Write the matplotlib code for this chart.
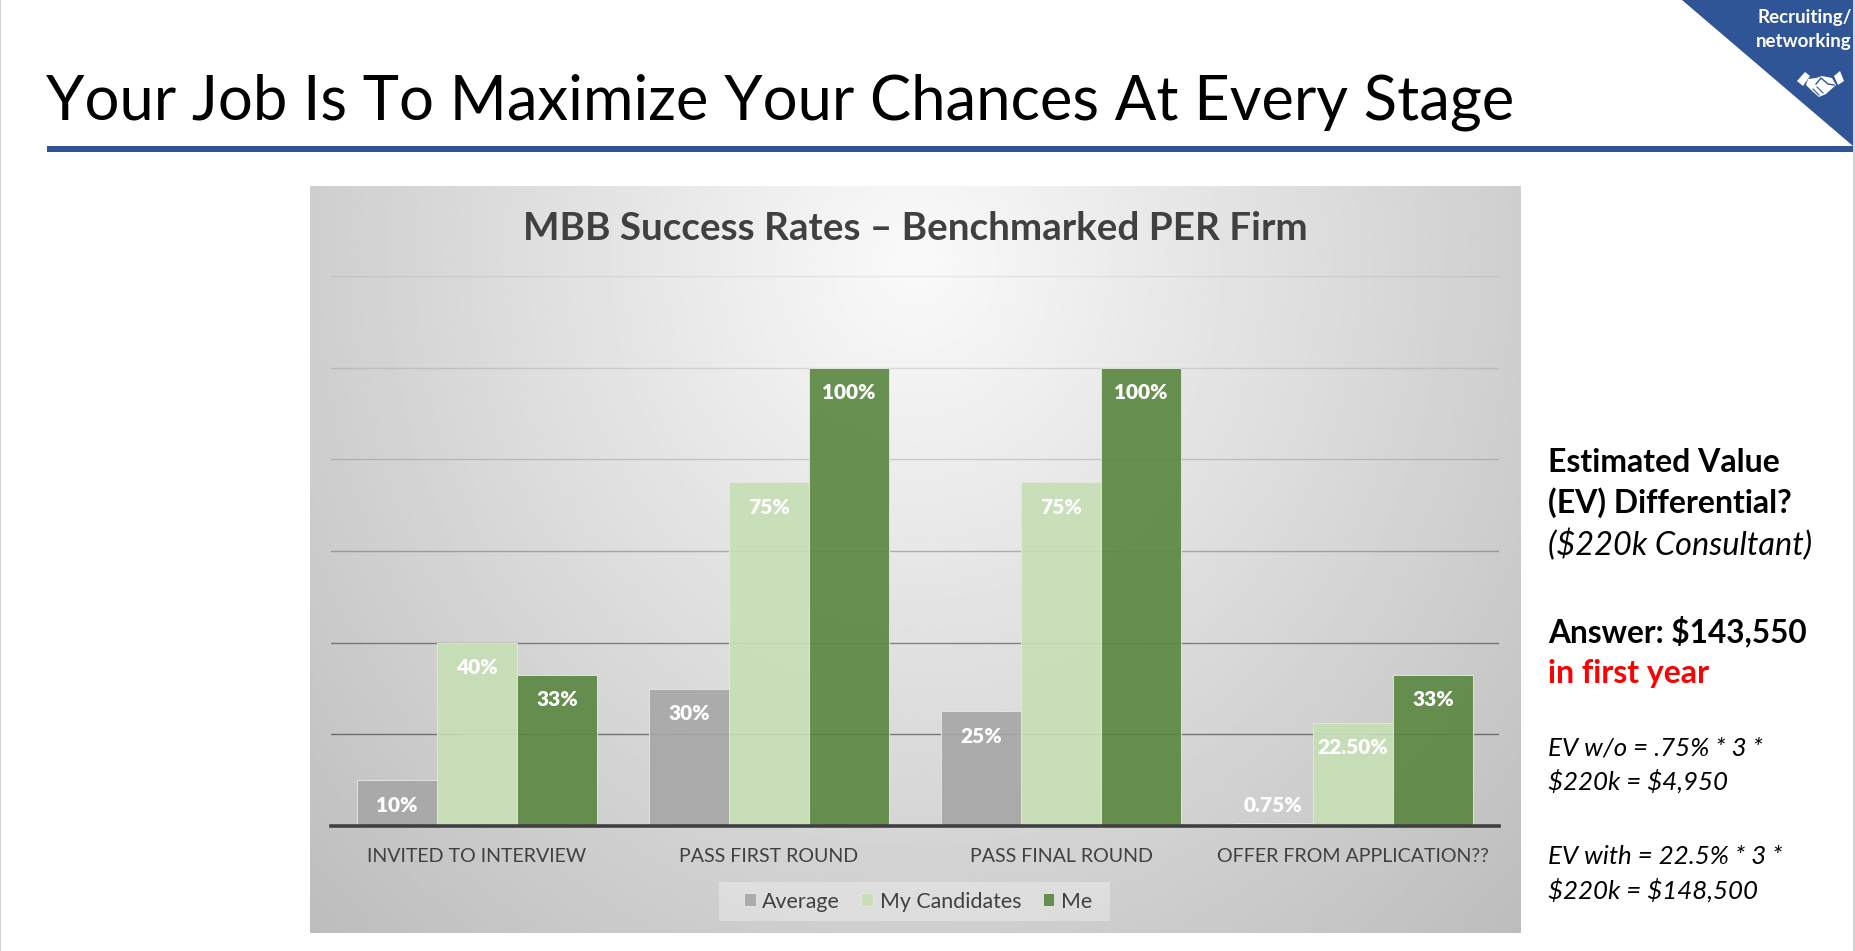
#!/usr/bin/env python

import numpy as np
import matplotlib
matplotlib.use("Agg")
import matplotlib.pyplot as plt
from matplotlib.patches import Polygon, Rectangle

plt.rcParams["font.family"] = ["Lato", "DejaVu Sans"]

W, H = 1855, 951

categories = ["INVITED TO INTERVIEW", "PASS FIRST ROUND", "PASS FINAL ROUND", "OFFER FROM APPLICATION??"]
average = [10, 30, 25, 0.75]
candidates = [40, 75, 75, 22.5]
me = [33, 100, 100, 33]
average_labels = ["10%", "30%", "25%", "0.75%"]
candidates_labels = ["40%", "75%", "75%", "22.50%"]
me_labels = ["33%", "100%", "100%", "33%"]
series_names = ["Average", "My Candidates", "Me"]
colors = ["#a7a7a7", "#c7dfb6", "#5c8843"]

title = "Your Job Is To Maximize Your Chances At Every Stage"
chart_title = "MBB Success Rates \u2013 Benchmarked PER Firm"

fig = plt.figure(figsize=(W / 100, H / 100), dpi=100)

# page layer, in pixels
bg = fig.add_axes([0, 0, 1, 1], zorder=0)
bg.set_xlim(0, W)
bg.set_ylim(H, 0)
bg.axis("off")

# chart panel gradient
yy, xx = np.mgrid[0:1:300j, 0:1:500j]
r = np.sqrt(((xx - 0.5) / 0.5) ** 2 + ((yy - 0.1) / 0.9) ** 2) / np.sqrt(2)
grad = 0.98 - 0.24 * np.clip(r, 0, 1)
bg.imshow(grad, cmap="gray", vmin=0, vmax=1, extent=(310, 1521, 933, 186), aspect="auto", zorder=1)
bg.set_xlim(0, W)
bg.set_ylim(H, 0)

# page furniture
blue = "#2f5597"
bg.add_patch(Rectangle((47, 146), 1806, 6, color=blue, lw=0, zorder=2))
bg.add_patch(Polygon([(1682, 0), (1853, 0), (1853, 146)], color=blue, lw=0, zorder=2))
bg.add_patch(Rectangle((1853, 0), 2, H, color="#d4d4d4", lw=0, zorder=2))
bg.add_patch(Rectangle((0, 0), 1, H, color="#d4d4d4", lw=0, zorder=2))

# handshake icon
bg.add_patch(Polygon([(1797, 81), (1805, 72), (1810, 76), (1803, 86)], color="white", lw=0, zorder=3))
bg.add_patch(Polygon([(1834, 76), (1840, 71), (1844, 81), (1838, 85)], color="white", lw=0, zorder=3))
bg.add_patch(Polygon([(1808, 79), (1816, 78), (1822, 76), (1832, 78), (1836, 85), (1826, 94),
                      (1819, 97), (1812, 91), (1806, 85)], color="white", lw=0, zorder=3))
bg.plot([1816, 1821, 1828, 1834], [84, 78, 84, 85], color=blue, lw=1, zorder=4)
bg.plot([1813, 1819], [89, 95], color=blue, lw=0.8, zorder=4)
bg.plot([1817, 1823], [87, 93], color=blue, lw=0.8, zorder=4)

bg.text(46, 102, title, fontsize=44.3, color="black", va="center", ha="left", zorder=5)
bg.text(1852, 18, "Recruiting/", fontsize=13.5, color="white", fontweight="bold", va="center", ha="right", zorder=5)
bg.text(1852, 41, "networking", fontsize=13.5, color="white", fontweight="bold", va="center", ha="right", zorder=5)
bg.text(915, 228, chart_title, fontsize=27.8, color="#404040", fontweight="bold", va="center", ha="center", zorder=5)

side_x = 1548
bg.text(side_x, 462, "Estimated Value", fontsize=23, fontweight="bold", va="center", zorder=5)
bg.text(side_x, 503, "(EV) Differential?", fontsize=23, fontweight="bold", va="center", zorder=5)
bg.text(side_x, 545, r"(\$220k Consultant)", fontsize=23.4, style="italic", va="center", zorder=5)
bg.text(side_x, 631, r"Answer: \$143,550", fontsize=22.8, fontweight="bold", va="center", zorder=5)
bg.text(side_x, 673, "in first year", fontsize=23, fontweight="bold", color="#ff0000", va="center", zorder=5)
bg.text(side_x, 748, "EV w/o = .75% * 3 *", fontsize=18.6, style="italic", va="center", zorder=5)
bg.text(side_x, 781, r"\$220k = \$4,950", fontsize=18.6, style="italic", va="center", zorder=5)
bg.text(side_x, 856, "EV with = 22.5% * 3 *", fontsize=18.6, style="italic", va="center", zorder=5)
bg.text(side_x, 890, r"\$220k = \$148,500", fontsize=18.6, style="italic", va="center", zorder=5)

# legend backdrop
bg.add_patch(Rectangle((719, 882), 391, 39, color="white", alpha=0.3, lw=0, zorder=2))

# the chart itself
left, right, top, bottom = 331, 1499, 276, 826
ax = fig.add_axes([left / W, 1 - bottom / H, (right - left) / W, (bottom - top) / H], zorder=1)
ax.patch.set_alpha(0)

x = np.arange(len(categories))
width = 0.2735
groups = [average, candidates, me]
group_labels = [average_labels, candidates_labels, me_labels]
for i, (vals, labs) in enumerate(zip(groups, group_labels)):
    bars = ax.bar(x + (i - 1) * width, vals, width, color=colors[i], alpha=0.92, edgecolor="#e4e8e0",
                  linewidth=0.7, label=series_names[i], zorder=2)
    for b, v, lab in zip(bars, vals, labs):
        # a bar too short to hold its label gets it on top
        off = -18 if v > 5 else 12
        ax.annotate(lab, (b.get_x() + b.get_width() / 2, v), xytext=(0, off), textcoords="offset points",
                    ha="center", va="center", color="white", fontweight="heavy", fontsize=15, zorder=3)

ax.set_xlim(-0.5, 3.5)
ax.set_ylim(0, 120)
ax.set_yticks(range(0, 121, 20))
ax.yaxis.grid(True, color="#000000", lw=1, zorder=1)
for g, a in zip(ax.get_ygridlines(), [0, 0.45, 0.42, 0.25, 0.15, 0.1, 0.07]):
    g.set_alpha(a)
ax.set_axisbelow(True)
for s in ["top", "left", "right"]:
    ax.spines[s].set_visible(False)
ax.spines["bottom"].set_color("#404040")
ax.spines["bottom"].set_linewidth(2.6)
ax.tick_params(axis="both", length=0)
ax.set_yticklabels([])
ax.set_xticks(x)
ax.set_xticklabels(categories, fontsize=14.1, color="#404040")
ax.tick_params(axis="x", pad=16)

leg = ax.legend(loc="center", bbox_to_anchor=(918 / W, 1 - 901.5 / H), bbox_transform=fig.transFigure,
                ncol=3, frameon=False, fontsize=15.4, labelcolor="#404040", handlelength=0.55,
                handleheight=0.55, handletextpad=0.3, columnspacing=1.0)

plt.savefig("out.png", dpi=100)
